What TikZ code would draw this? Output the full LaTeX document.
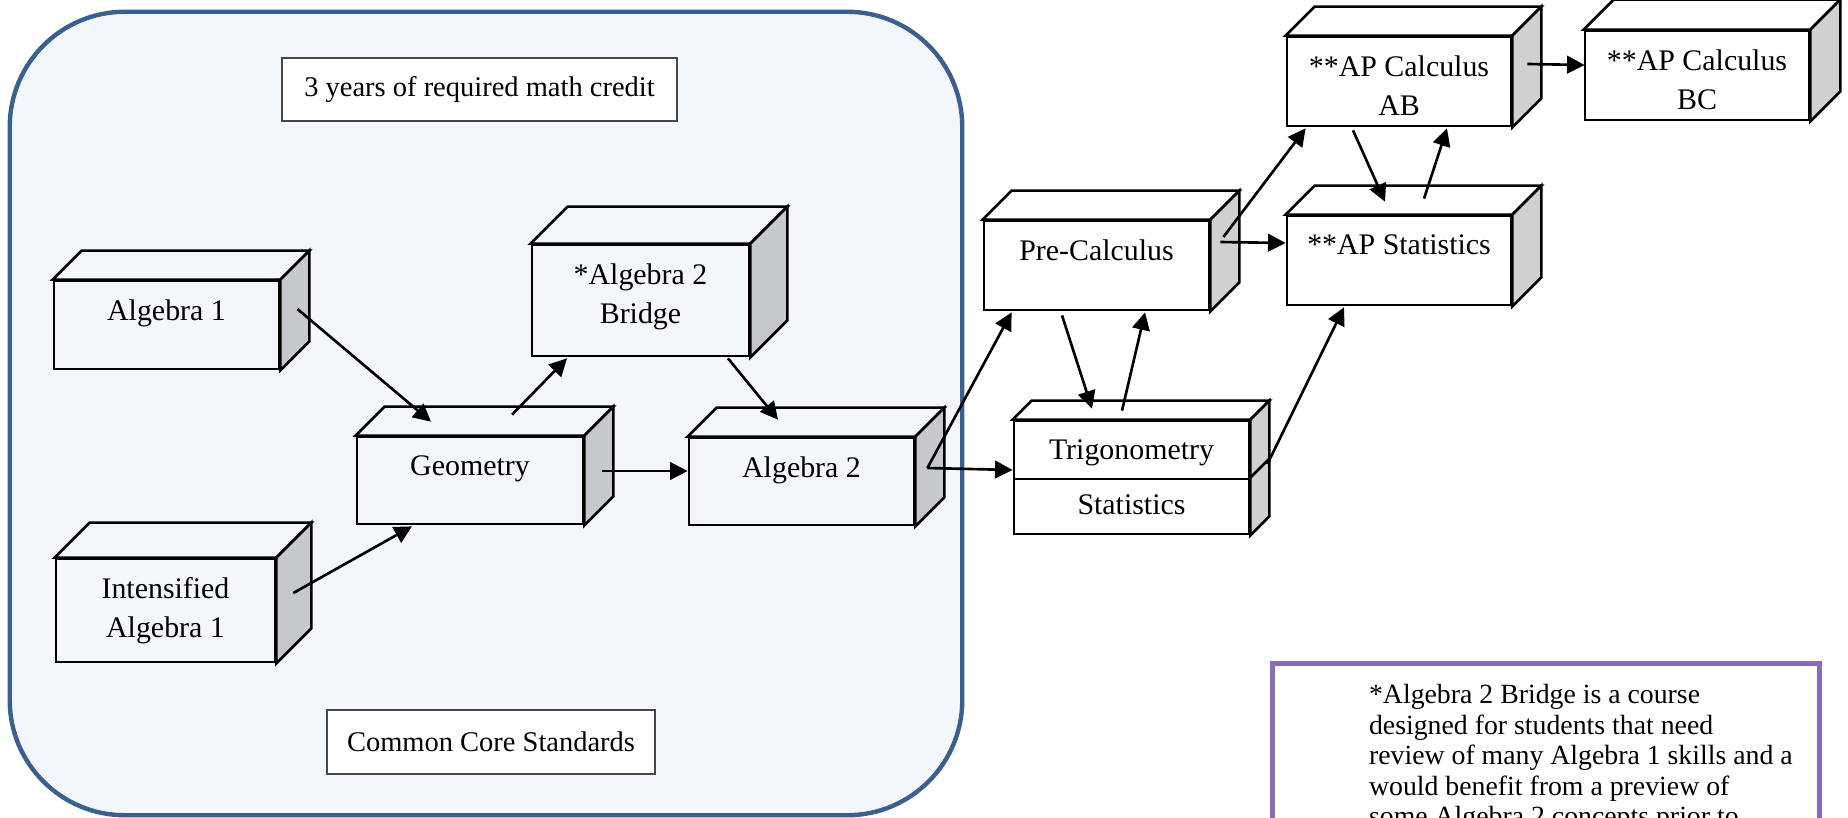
\documentclass[tikz,border=0pt]{standalone}
\usepackage{fontspec}
\setmainfont{Liberation Serif}
\usetikzlibrary{positioning,arrows.meta}

\definecolor{coreblue}{RGB}{58,96,144}
\definecolor{corefill}{RGB}{243,246,251}
\definecolor{sidein}{RGB}{197,200,204}
\definecolor{sideout}{RGB}{208,208,208}
\definecolor{notepurple}{RGB}{138,107,181}
\definecolor{labelgray}{RGB}{70,70,70}

\tikzset{
  face/.style={draw=black, line width=0.75pt, inner sep=0pt},
  facetext/.style={inner sep=0pt, align=center, font=\fontsize{8.5}{11.1}\selectfont},
  tag/.style={draw=labelgray, line width=0.5pt, fill=white, inner sep=0pt, font=\fontsize{8.1}{9.5}\selectfont},
  arr/.style={-{Triangle[length=5pt,width=5pt]}, line width=0.75pt},
}

\begin{document}
\begin{tikzpicture}[x=0.01cm, y=-0.01cm]
\useasboundingbox (0,0) rectangle (1848,818);
\clip (0,0) rectangle (1848,818);

% common core frame
\node[draw=coreblue, line width=1.25pt, fill=corefill, rounded corners=1.15cm, minimum width=9.52cm, minimum height=8.03cm, inner sep=0pt] (core) at (486,413.5) {};
\node[tag, minimum width=3.95cm, minimum height=0.63cm] (years) at (479.5,89.5) {3 years of required math credit};
\node[tag, minimum width=3.28cm, minimum height=0.64cm] (ccss) at (491,742) {Common Core Standards};

% front faces of the course boxes
\node[face, fill=corefill, minimum width=2.25cm, minimum height=0.88cm] (alg1) at (166.5,325) {};
\node[face, fill=corefill, minimum width=2.19cm, minimum height=1.03cm] (ialg1) at (165.5,610.5) {};
\node[face, fill=corefill, minimum width=2.26cm, minimum height=0.87cm] (geom) at (470,480.5) {};
\node[face, fill=corefill, minimum width=2.17cm, minimum height=1.11cm] (bridge) at (640.5,300.5) {};
\node[face, fill=corefill, minimum width=2.25cm, minimum height=0.87cm] (alg2) at (801.5,481.5) {};
\node[face, fill=white, minimum width=2.25cm, minimum height=0.89cm] (precalc) at (1096.5,265.5) {};
\node[face, fill=white, minimum width=2.24cm, minimum height=0.89cm] (apab) at (1399,81.5) {};
\node[face, fill=white, minimum width=2.24cm, minimum height=0.89cm] (apbc) at (1697,75.5) {};
\node[face, fill=white, minimum width=2.24cm, minimum height=0.89cm] (apstat) at (1399,260.5) {};
\node[face, fill=white, minimum width=2.35cm, minimum height=0.55cm] (stat) at (1131.5,506.5) {};
\node[face, fill=white, minimum width=2.35cm, minimum height=0.58cm] (trig) at (1131.5,450) {};

% top and side faces
\foreach \n/\d/\sc/\tc in {alg1/29/sidein/corefill, ialg1/35/sidein/corefill, geom/29/sidein/corefill,
    bridge/37/sidein/corefill, alg2/29/sidein/corefill, precalc/29/sideout/white, apab/29/sideout/white,
    apbc/30/sideout/white, apstat/29/sideout/white, trig/19/sideout/white} {
  \filldraw[fill=\tc, line width=0.75pt] (\n.north west) -- ++(\d,-\d) -- ([shift={(\d,-\d)}]\n.north east) -- (\n.north east) -- cycle;
  \filldraw[fill=\sc, line width=0.75pt] (\n.north east) -- ++(\d,-\d) -- ([shift={(\d,-\d)}]\n.south east) -- (\n.south east) -- cycle;
}
\filldraw[fill=sideout, line width=0.75pt] (stat.north east) -- ++(19,-19) -- ([shift={(19,-19)}]stat.south east) -- (stat.south east) -- cycle;

% course names
\node[facetext, below=0.19cm of alg1.north] (alg1-t) {Algebra 1};
\node[facetext, below=0.19cm of ialg1.north] (ialg1-t) {Intensified\\Algebra 1};
\node[facetext, below=0.19cm of geom.north] (geom-t) {Geometry};
\node[facetext, below=0.19cm of bridge.north] (bridge-t) {*Algebra 2\\Bridge};
\node[facetext, below=0.19cm of alg2.north] (alg2-t) {Algebra 2};
\node[facetext, below=0.19cm of precalc.north] (precalc-t) {Pre-Calculus};
\node[facetext, below=0.19cm of apab.north] (apab-t) {**AP Calculus\\AB};
\node[facetext, below=0.19cm of apbc.north] (apbc-t) {**AP Calculus\\BC};
\node[facetext, below=0.19cm of apstat.north] (apstat-t) {**AP Statistics};
\node[facetext, below=0.19cm of trig.north] (trig-t) {Trigonometry};
\node[facetext, below=0.16cm of stat.north] (stat-t) {Statistics};

% arrows
\draw[arr] ([shift={(17,-16)}]alg1.east) -- ([shift={(-39,-14)}]geom.north);
\draw[arr] ([shift={(17,-17.5)}]ialg1.east) -- ([shift={(-58,1)}]geom.south);
\draw[arr] ([shift={(42,-21)}]geom.north) -- ([shift={(-73.5,1)}]bridge.south);
\draw[arr] ([shift={(87.5,1)}]bridge.south) -- ([shift={(-23.5,-17)}]alg2.north);
\draw[arr] ([shift={(18,-9.5)}]geom.east) -- ([shift={(0,-10.5)}]alg2.west);
\coordinate (a2out) at ([shift={(12,-13.5)}]alg2.east);
\draw[arr] (a2out) -- ([shift={(0,20)}]trig.west);
\draw[arr] (a2out) -- ([shift={(29,1)}]precalc.south west);
\draw[arr] ([shift={(13,-28.5)}]precalc.east) -- ([shift={(20,1)}]apab.south west);
\draw[arr] ([shift={(10,-23.5)}]precalc.east) -- ([shift={(0,-17.5)}]apstat.west);
\draw[arr] ([shift={(-34.5,4)}]precalc.south) -- ([shift={(-39.5,-11)}]trig.north);
\draw[arr] ([shift={(-9.5,-9)}]trig.north) -- ([shift={(48.5,1)}]precalc.south);
\draw[arr] ([shift={(17,14)}]trig.east) -- ([shift={(-55,1)}]apstat.south);
\draw[arr] ([shift={(-46,3)}]apab.south) -- ([shift={(-14,-13)}]apstat.north);
\draw[arr] ([shift={(25,-16)}]apstat.north) -- ([shift={(48,1)}]apab.south);
\draw[arr] ([shift={(15,-17.5)}]apab.east) -- ([shift={(1,-10.5)}]apbc.west);

% footnote box
\node[draw=notepurple, line width=1.4pt, fill=white, minimum width=5.46cm, minimum height=2.2cm, inner sep=0pt] (note) at (1546,774) {};
\node[anchor=north west, inner sep=0pt, align=left, font=\fontsize{7.9}{8.7}\selectfont] (note-t) at ([shift={(98,22)}]note.north west)
  {*Algebra 2 Bridge is a course\\designed for students that need\\review of many Algebra 1 skills and a\\would benefit from a preview of\\some Algebra 2 concepts prior to};

\end{tikzpicture}
\end{document}
